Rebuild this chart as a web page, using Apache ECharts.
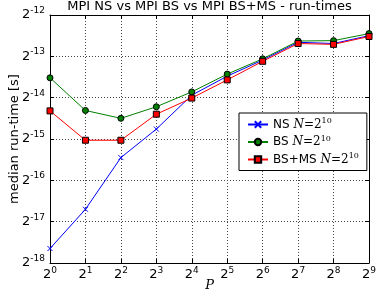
<!DOCTYPE html>
<html><head><meta charset="utf-8">
<script src="https://cdn.jsdelivr.net/npm/echarts@6/dist/echarts.min.js"></script>
<style>html,body{margin:0;padding:0;background:#fff}#c{width:377px;height:295px}</style>
</head><body><div id="c"></div>
<script>
var P = [1, 2, 4, 8, 16, 32, 64, 128, 256, 512];
var nsTimes = [4.862e-6, 9.393e-6, 2.234e-5, 3.604e-5, 6.363e-5, 8.752e-5, 1.1470e-4, 1.5452e-4, 1.5133e-4, 1.7263e-4];
var bsTimes = [8.513e-5, 4.923e-5, 4.316e-5, 5.240e-5, 6.726e-5, 9.061e-5, 1.1710e-4, 1.5777e-4, 1.5885e-4, 1.7872e-4];
var bsmsTimes = [4.889e-5, 2.989e-5, 2.989e-5, 4.626e-5, 6.061e-5, 8.223e-5, 1.1233e-4, 1.5133e-4, 1.4924e-4, 1.7025e-4];
var seriesNames = ['NS', 'BS', 'BS+MS'];
var yMin = Math.pow(2, -18), yMax = Math.pow(2, -12);

function pow2Label(v) {
  var e = Math.round(Math.log2(v));
  return '{b|2}{s|' + e + '}';
}
var rich = {
  b: {fontSize: 13, fontFamily: 'DejaVu Sans', color: '#000'},
  s: {fontSize: 9, fontFamily: 'DejaVu Sans', color: '#000', padding: [0, 0, 9, 0]}
};
function pairs(ys) { return P.map(function (p, i) { return [p, ys[i]]; }); }

var cross = 'path://M0,0L10,10M10,0L0,10';
var baseX = {
  type: 'log', logBase: 2, min: 1, max: 512, interval: 1,
  axisLine: {show: true, lineStyle: {color: '#000', width: 1}},
  axisTick: {show: true, inside: true, length: 4, lineStyle: {color: '#000'}},
  splitLine: {show: false}
};
var baseY = {
  type: 'log', logBase: 2, min: yMin, max: yMax, interval: 1,
  axisLine: {show: true, lineStyle: {color: '#000', width: 1}},
  axisTick: {show: true, inside: true, length: 4, lineStyle: {color: '#000'}},
  splitLine: {show: false}
};

var chart = echarts.init(document.getElementById('c'));
chart.setOption({
  animation: false,
  backgroundColor: '#fff',
  title: {
    text: 'MPI NS vs MPI BS vs MPI BS+MS - run-times',
    left: 209.5, top: 0, textAlign: 'center', padding: 0,
    textStyle: {fontSize: 13, fontWeight: 'normal', fontFamily: 'DejaVu Sans', color: '#000', lineHeight: 14}
  },
  grid: {left: 50, right: 8, top: 15, bottom: 32, containLabel: false, outerBoundsMode: 'none'},
  legend: {
    orient: 'vertical', left: 239, top: 113,
    padding: [4, 8, 5, 8], itemGap: 4, itemWidth: 20, itemHeight: 8,
    borderColor: '#000', borderWidth: 1, borderRadius: 0, backgroundColor: '#fff',
    data: seriesNames,
    formatter: function (n) { return '{t|' + n + ' }{i|N}{m|=2}{s|10}'; },
    textStyle: {
      rich: {
        t: {fontSize: 12, fontFamily: 'DejaVu Sans', color: '#000'},
        i: {fontSize: 12, fontFamily: 'DejaVu Serif', fontStyle: 'italic', color: '#000'},
        m: {fontSize: 12, fontFamily: 'DejaVu Serif', color: '#000'},
        s: {fontSize: 8, fontFamily: 'DejaVu Serif', color: '#000', padding: [0, 0, 7, 0]}
      }
    }
  },
  xAxis: [
    Object.assign({}, baseX, {
      position: 'bottom',
      name: 'P', nameLocation: 'middle', nameGap: 16, nameMoveOverlap: false,
      nameTextStyle: {fontFamily: 'DejaVu Serif', fontStyle: 'italic', fontSize: 13, color: '#000'},
      axisLabel: {formatter: pow2Label, rich: rich, margin: 3},
      splitLine: {show: true, lineStyle: {color: '#444', type: [1, 2], width: 1}}
    }),
    Object.assign({}, baseX, {position: 'top', axisLabel: {show: false}})
  ],
  yAxis: [
    Object.assign({}, baseY, {
      position: 'left',
      name: 'median run-time [s]', nameLocation: 'middle', nameGap: 29, nameMoveOverlap: false,
      nameTextStyle: {fontFamily: 'DejaVu Sans', fontSize: 13, color: '#000'},
      axisLabel: {formatter: pow2Label, rich: rich, margin: 5},
      splitLine: {show: true, lineStyle: {color: '#444', type: [1, 2], width: 1}}
    }),
    Object.assign({}, baseY, {position: 'right', axisLabel: {show: false}})
  ],
  series: [
    {
      name: seriesNames[0], type: 'line', data: pairs(nsTimes),
      symbol: cross, symbolSize: 5,
      lineStyle: {color: '#0000ff', width: 1},
      itemStyle: {color: '#0000ff', borderColor: '#0000ff', borderWidth: 1}
    },
    {
      name: seriesNames[1], type: 'line', data: pairs(bsTimes),
      symbol: 'circle', symbolSize: 6,
      lineStyle: {color: '#008000', width: 1},
      itemStyle: {color: '#008000', borderColor: '#000', borderWidth: 1}
    },
    {
      name: seriesNames[2], type: 'line', data: pairs(bsmsTimes),
      symbol: 'rect', symbolSize: 6,
      lineStyle: {color: '#ff0000', width: 1},
      itemStyle: {color: '#ff0000', borderColor: '#000', borderWidth: 1}
    }
  ]
});
</script></body></html>
